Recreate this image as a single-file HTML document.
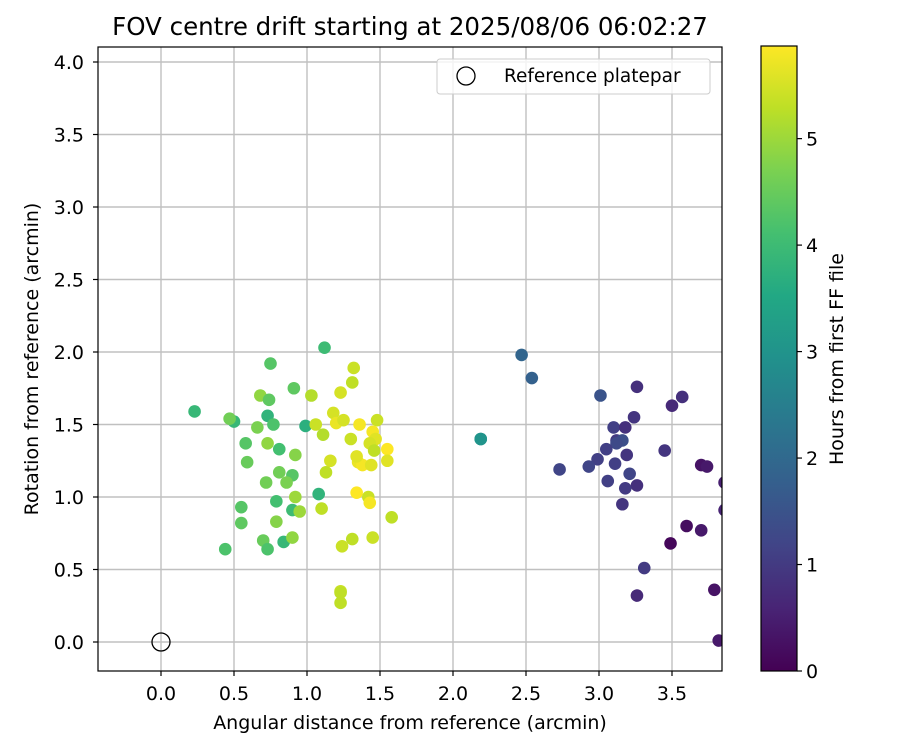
<!DOCTYPE html>
<html><head><meta charset="utf-8"><style>
body{margin:0;background:#fff;font-family:"Liberation Sans","DejaVu Sans",sans-serif}
svg text{font-family:"DejaVu Sans","Liberation Sans",sans-serif;fill:#000}
</style></head><body>
<svg id="chart" width="900" height="750" xmlns="http://www.w3.org/2000/svg">
<defs>
<clipPath id="pc"><rect x="98" y="47" width="624" height="624"/></clipPath>
<linearGradient id="vir" x1="0" y1="1" x2="0" y2="0">
<stop offset="0" stop-color="#440154"/><stop offset="0.1" stop-color="#482475"/><stop offset="0.2" stop-color="#414487"/><stop offset="0.3" stop-color="#355f8d"/><stop offset="0.4" stop-color="#2a788e"/><stop offset="0.5" stop-color="#21918c"/><stop offset="0.6" stop-color="#22a884"/><stop offset="0.7" stop-color="#44bf70"/><stop offset="0.8" stop-color="#7ad151"/><stop offset="0.9" stop-color="#bddf26"/><stop offset="1" stop-color="#fde725"/>
</linearGradient>
</defs>
<text x="410" y="35" font-size="24.5" text-anchor="middle">FOV centre drift starting at 2025/08/06 06:02:27</text>
<g id="grid"></g>
<g id="points" clip-path="url(#pc)"></g>
<rect x="98" y="47" width="624" height="624" fill="none" stroke="#000" stroke-width="1.2"/>
<g id="ticks"></g>
<text x="410" y="729" font-size="19" text-anchor="middle">Angular distance from reference (arcmin)</text>
<text transform="translate(38,359) rotate(-90)" font-size="19" text-anchor="middle">Rotation from reference (arcmin)</text>
<g>
<rect x="437" y="59" width="273" height="35" fill="#fff" fill-opacity="0.8" stroke="#ccc" rx="3"/>
<circle cx="466" cy="76" r="9" fill="none" stroke="#000" stroke-width="1.3"/>
<text x="504" y="82" font-size="18.5">Reference platepar</text>
</g>
<rect x="761" y="46" width="36" height="625" fill="url(#vir)" stroke="#000" stroke-width="1.2"/>
<g id="cbticks"></g>
<text transform="translate(843,359) rotate(-90)" font-size="19" text-anchor="middle">Hours from first FF file</text>
</svg>
<script>
const xs=[1.12,0.75,1.32,1.31,0.91,1.03,1.23,0.68,0.74,0.23,0.73,0.50,0.47,0.77,0.66,0.99,1.06,1.11,1.18,1.20,1.25,1.36,1.48,1.45,1.47,1.30,1.43,1.46,1.55,1.55,0.58,0.73,0.81,0.92,0.59,1.16,1.13,1.35,1.38,1.44,1.34,0.81,0.90,0.86,0.72,1.08,1.34,1.42,1.43,0.92,0.79,0.55,0.90,0.95,1.10,1.58,0.55,0.79,0.70,0.73,0.84,0.90,0.44,1.24,1.31,1.45,1.23,1.23,1.23,
2.19,2.19,2.47,2.54,3.01,3.26,3.57,3.50,3.24,3.10,3.18,3.12,3.16,3.12,3.05,3.19,3.45,2.99,3.11,2.93,2.73,3.21,3.06,3.26,3.18,3.16,3.70,3.74,3.60,3.70,3.49,3.31,3.26,3.79,3.82,3.86,3.86];
const ys=[2.03,1.92,1.89,1.79,1.75,1.70,1.72,1.70,1.67,1.59,1.56,1.52,1.54,1.50,1.48,1.49,1.50,1.43,1.58,1.51,1.53,1.50,1.53,1.45,1.40,1.40,1.37,1.32,1.33,1.25,1.37,1.37,1.33,1.29,1.24,1.25,1.17,1.24,1.22,1.22,1.28,1.17,1.15,1.10,1.10,1.02,1.03,1.00,0.96,1.00,0.97,0.93,0.91,0.90,0.92,0.86,0.82,0.83,0.70,0.64,0.69,0.72,0.64,0.66,0.71,0.72,0.35,0.34,0.27,
1.40,1.40,1.98,1.82,1.70,1.76,1.69,1.63,1.55,1.48,1.48,1.39,1.39,1.37,1.33,1.29,1.32,1.26,1.23,1.21,1.19,1.16,1.11,1.08,1.06,0.95,1.22,1.21,0.80,0.77,0.68,0.51,0.32,0.36,0.01,1.10,0.91];
const hours=[4.0,4.3,5.4,5.3,4.4,5.2,5.5,4.9,4.4,3.9,3.8,3.9,4.6,4.2,4.7,3.7,5.4,5.2,5.5,5.7,5.5,5.8,5.4,5.8,5.6,5.4,5.5,5.3,5.9,5.6,4.3,4.9,4.1,4.8,4.5,5.5,5.3,5.7,5.8,5.6,5.6,4.6,4.3,4.7,4.6,3.8,5.9,5.4,5.8,5.0,4.1,4.3,4.0,5.0,5.3,5.3,4.4,4.8,4.5,4.2,3.9,4.9,4.2,5.4,5.3,5.4,5.4,5.3,5.3,
3.0,3.0,1.9,1.8,1.5,0.8,0.8,0.7,0.9,1.1,0.8,1.0,1.4,1.3,1.1,0.9,0.9,1.1,1.1,1.2,1.2,1.2,1.1,0.8,1.0,0.9,0.3,0.4,0.2,0.4,0.1,1.0,0.7,0.3,0.4,0.5,0.6];
const xTicks=[0,0.5,1,1.5,2,2.5,3,3.5];
const yTicks=[0,0.5,1,1.5,2,2.5,3,3.5,4];
const cTicks=[0,1,2,3,4,5];
const HMAX=5.87;
const sx=v=>161+v*146, sy=v=>642-v*145, sc=v=>671-v*(625/HMAX);
const stops=["#440154","#482475","#414487","#355f8d","#2a788e","#21918c","#22a884","#44bf70","#7ad151","#bddf26","#fde725"];
function hex(c){return [1,3,5].map(i=>parseInt(c.substr(i,2),16));}
function vir(t){t=Math.max(0,Math.min(1,t));const f=t*10,i=Math.min(9,Math.floor(f)),r=f-i,a=hex(stops[i]),b=hex(stops[i+1]);return "rgb("+a.map((v,k)=>Math.round(v+(b[k]-v)*r)).join(",")+")";}
const NS="http://www.w3.org/2000/svg";
function mk(t,at,p){const e=document.createElementNS(NS,t);for(const k in at)e.setAttribute(k,at[k]);p.appendChild(e);return e;}
const G=document.getElementById("grid"),T=document.getElementById("ticks"),P=document.getElementById("points"),C=document.getElementById("cbticks");
xTicks.forEach(v=>{const x=sx(v);
const g=mk("line",{x1:x,x2:x,y1:47,y2:671,stroke:"#c0c0c0","stroke-width":1.4},G);


mk("line",{x1:x,x2:x,y1:671,y2:676,stroke:"#000","stroke-width":1.2},T);
const t=mk("text",{x:x,y:700,"font-size":19,"text-anchor":"middle"},T);t.textContent=v.toFixed(1);

});
yTicks.forEach(v=>{const y=sy(v);
const g=mk("line",{x1:98,x2:722,y1:y,y2:y,stroke:"#c0c0c0","stroke-width":1.4},G);


mk("line",{x1:93,x2:98,y1:y,y2:y,stroke:"#000","stroke-width":1.2},T);
const t=mk("text",{x:84,y:y+7,"font-size":19,"text-anchor":"end"},T);t.textContent=v.toFixed(1);

});
cTicks.forEach(v=>{const y=sc(v);
mk("line",{x1:797,x2:802,y1:y,y2:y,stroke:"#000","stroke-width":1.2},C);
const t=mk("text",{x:806,y:y+7,"font-size":19},C);t.textContent=v;

});
xs.forEach((v,i)=>{const c=mk("circle",{cx:sx(v),cy:sy(ys[i]),r:6.3,fill:vir(hours[i]/HMAX)},P);

});
const ref=mk("circle",{cx:sx(0),cy:sy(0),r:9,fill:"none",stroke:"#000","stroke-width":1.3},P);


</script>
</body></html>
